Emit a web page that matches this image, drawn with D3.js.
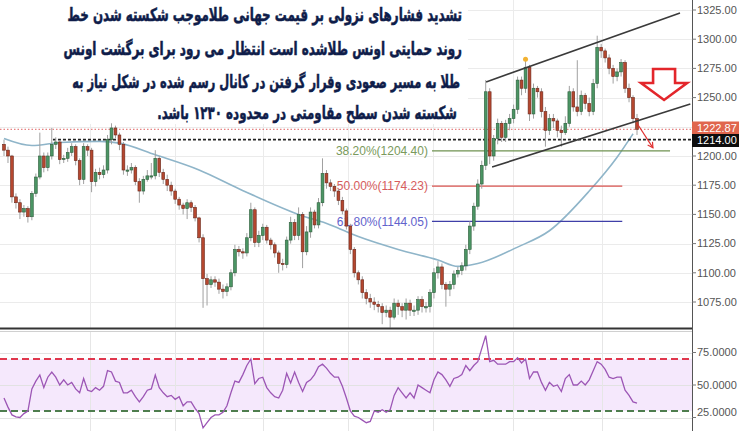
<!DOCTYPE html>
<html><head><meta charset="utf-8">
<script src="https://cdn.jsdelivr.net/npm/d3@7/dist/d3.min.js"></script>
<style>html,body{margin:0;padding:0;background:#fff;overflow:hidden}</style>
</head><body><svg id="c" width="739" height="431" xmlns="http://www.w3.org/2000/svg"></svg>
<script>
// ---------------- DATA ----------------
const opens = [1210,1205,1200,1165,1160,1152,1155,1148,1168,1182, 1200,1190,1200,1210,1212,1197,1198,1203,1208,1196,
 1180,1208,1205,1178,1186,1184,1188,1214,1224,1218, 1210,1188,1188,1190,1178,1170,1180,1183,1183,1198,
 1186,1180,1175,1170,1163,1158,1155,1160,1156,1147, 1130,1095,1090,1094,1092,1086,1084,1088,1100,1120,
 1118,1117,1130,1154,1126,1132,1139,1128,1124,1117, 1108,1107,1128,1143,1132,1150,1118,1135,1152,1141,
 1160,1185,1177,1174,1170,1162,1153,1140,1120,1100, 1094,1083,1078,1075,1073,1071,1066,1068,1062,1074,
 1071,1068,1074,1068,1068,1077,1071,1071,1083,1100, 1105,1090,1086,1090,1099,1102,1106,1120,1140,1157,
 1176,1192,1255,1200,1215,1228,1216,1228,1232,1240, 1265,1258,1276,1236,1258,1255,1238,1222,1232,1230,
 1222,1220,1228,1255,1242,1238,1252,1245,1238,1262, 1293,1290,1284,1275,1268,1272,1280,1258,1250,1232];
const closes = [1205,1200,1165,1160,1152,1155,1148,1168,1182,1200, 1190,1200,1210,1212,1197,1198,1203,1208,1196,1180,
 1208,1205,1178,1186,1184,1188,1214,1224,1218,1210, 1188,1188,1190,1178,1170,1180,1183,1183,1198,1186,
 1180,1175,1170,1163,1158,1155,1160,1156,1147,1130, 1095,1090,1094,1092,1086,1084,1088,1100,1120,1118,
 1117,1130,1154,1126,1132,1139,1128,1124,1117,1108, 1107,1128,1143,1132,1150,1118,1135,1152,1141,1160,
 1185,1177,1174,1170,1162,1153,1140,1120,1100,1094, 1083,1078,1075,1073,1071,1066,1068,1062,1074,1071,
 1068,1074,1068,1068,1077,1071,1071,1083,1100,1105, 1090,1086,1090,1099,1102,1106,1120,1140,1157,1176,
 1192,1255,1200,1215,1228,1216,1228,1232,1240,1265, 1258,1276,1236,1258,1255,1238,1222,1232,1230,1222,
 1220,1228,1255,1242,1238,1252,1245,1238,1262,1293, 1290,1284,1275,1268,1272,1280,1258,1250,1232,1222.87];
const highs = [1214,1208,1201,1168,1163,1158,1157,1170,1185,1220, 1203,1203,1224,1216,1213,1201,1207,1211,1210,1198,
 1211,1210,1207,1189,1190,1192,1218,1228,1226,1220, 1212,1192,1194,1192,1181,1183,1188,1194,1205,1200,
 1189,1184,1178,1172,1165,1160,1163,1162,1158,1148, 1133,1099,1097,1097,1095,1090,1091,1103,1124,1123,
 1121,1134,1160,1156,1136,1142,1141,1130,1126,1119, 1112,1131,1148,1146,1156,1152,1140,1156,1154,1164,
 1198,1188,1180,1176,1172,1165,1155,1142,1122,1102, 1097,1086,1082,1079,1076,1074,1072,1071,1078,1077,
 1074,1078,1077,1072,1080,1080,1075,1086,1104,1110, 1108,1092,1093,1102,1105,1109,1124,1144,1160,1180,
 1196,1265,1258,1218,1232,1230,1231,1236,1244,1268, 1268,1282,1278,1262,1260,1258,1242,1236,1236,1232,
 1226,1234,1260,1258,1282,1256,1254,1250,1266,1303, 1296,1292,1287,1278,1275,1283,1282,1262,1252,1236];
const lows = [1200,1194,1160,1155,1146,1148,1143,1145,1165,1180, 1186,1187,1197,1206,1193,1194,1195,1200,1192,1175,
 1176,1200,1169,1174,1180,1181,1185,1210,1215,1205, 1184,1183,1185,1175,1160,1167,1178,1180,1180,1182,
 1176,1170,1166,1159,1154,1150,1146,1152,1144,1126, 1070,1072,1087,1088,1082,1078,1080,1085,1097,1114,
 1112,1114,1127,1122,1122,1128,1125,1120,1113,1100, 1102,1104,1125,1128,1128,1104,1115,1130,1138,1138,
 1157,1172,1170,1165,1158,1150,1137,1116,1096,1090, 1078,1073,1070,1068,1066,1056,1062,1053,1060,1064,
 1062,1060,1063,1063,1064,1066,1066,1066,1078,1095, 1086,1071,1080,1086,1096,1098,1102,1116,1136,1154,
 1172,1188,1193,1196,1210,1212,1212,1222,1228,1236, 1252,1254,1230,1232,1250,1233,1208,1218,1224,1216,
 1208,1218,1225,1238,1234,1235,1240,1234,1235,1258, 1284,1280,1270,1262,1264,1268,1254,1246,1228,1218];
const rsi = [40,33,27,25.5,25,28,30,47,53,57.7, 48,56,60,56,50,54,50,52,47,44,
 55,46,45,48,46,49,61,60,53,52, 44,44,46,41,37,41,46,47,57.7,48,
 44,41,42,39,41,34,37,37,32,28, 17,21,25,27,27,29,34,44,53,52,
 58,65,70,51,55,56,48,44,41,40, 46,59,51.5,60,52,45,52,54,58,64,
 66,63,59,56,56,49,40,30,26,25, 23,21,22,30,29,31,29,31,42,48,
 44,40,44,40,50,48,46,44,54,60, 58,54,49,55,56,58,65,61,65,68,
 78,88,68,69,66,66,66,68,68,71, 67,70,55,60,60,52,46,52,49,50,
 45,55,58,50,50,53,50,54,61,68, 66,62,56,55,56,56,46,42,37,36];
const maIdx = [0,7,14,24,29,38,49,59,74,82,89,99,109,114,119,129,137,147,154,158];
const maVal = [1215,1209,1211.5,1212.5,1211,1201,1188,1172,1150,1141,1131,1120,1111,1105.5,1108,1122,1136,1170,1199,1219];
const priceTicks = [1075,1100,1125,1150,1175,1200,1225,1250,1275,1300,1325];
const rsiTicks = [25,50,75];
const rsiUpper = 70, rsiLower = 30;
const timeGridIdx = [21.7,43.0,65.1,86.4,107.8,127.9,150.3];
const fibLabels = ["38.20%(1204.40)","50.00%(1174.23)","61.80%(1144.05)"];
const fibValues = [1204.40,1174.23,1144.05];
const fibStartIdx = 107.5;
const fibEndIdx = [167.3,155.3,155.3];
const lastPrice = 1222.87, supportPrice = 1214.00, supportStartIdx = 12.3;
const channelUpper = [[121.1,1263.4],[169.8,1322.4]];
const channelLower = [[122.6,1190.6],[172.4,1244.5]];
const smallArrow = [[159.0,1228],[163.0,1207]];
const bigArrowAnchor = [165.8,1274.5];
const markerIdx = 131;
const titleLines = [
 "تشدید فشارهای نزولی بر قیمت جهانی طلاموجب شکسته شدن خط",
 "روند حمایتی اونس طلاشده است انتظار می رود برای برگشت اونس",
 "طلا به مسیر صعودی وقرار گرفتن در کانال رسم شده در شکل  نیاز به",
 "شکسته شدن سطح مقاومتی در محدوده ۱۲۳۰ باشد."
];

// ---------------- LAYOUT ----------------
const svg = d3.select("#c");
const AX = 692, mainBottom = 328, rsiTop = 331, H = 431;
const x = d3.scaleLinear().domain([0,159]).range([4,637]);
const y = d3.scaleLinear().domain([1075,1325]).range([302,10]);
const yr = d3.scaleLinear().domain([25,75]).range([417.5,352.5]);

const defs = svg.append("defs");
defs.append("clipPath").attr("id","cm").append("rect").attr("x",0).attr("y",0).attr("width",AX).attr("height",mainBottom);
defs.append("clipPath").attr("id","cr").append("rect").attr("x",0).attr("y",rsiTop).attr("width",AX).attr("height",H-rsiTop);

const gm = svg.append("g").attr("clip-path","url(#cm)");
gm.selectAll("line.hg").data(priceTicks).join("line")
  .attr("x1",0).attr("x2",AX).attr("y1",d=>Math.round(y(d))+0.5).attr("y2",d=>Math.round(y(d))+0.5)
  .attr("stroke","#ebebeb");
gm.selectAll("line.vg").data(timeGridIdx).join("line")
  .attr("x1",d=>Math.round(x(d))+0.5).attr("x2",d=>Math.round(x(d))+0.5).attr("y1",0).attr("y2",mainBottom)
  .attr("stroke","#ebebeb");

gm.append("rect").attr("x",0).attr("y",0).attr("width",468).attr("height",124).attr("fill","#fff");

const ma = maIdx.map((d,i)=>[d,maVal[i]]);
gm.append("path").datum(ma).attr("fill","none").attr("stroke","#8fb5c9").attr("stroke-width",1.6)
  .attr("d",d3.line().x(d=>x(d[0])).y(d=>y(d[1])).curve(d3.curveMonotoneX));

const fibColors = ["#6f9251","#d9534f","#3f3fa8"];
const fibText = ["#7a9a5c","#d65c5c","#6262cc"];
fibValues.forEach((v,k)=>{
  gm.append("line").attr("x1",x(fibStartIdx)).attr("x2",x(fibEndIdx[k]))
    .attr("y1",y(v)).attr("y2",y(v)).attr("stroke",fibColors[k]).attr("stroke-width",1.2);
  gm.append("text").attr("x",x(fibStartIdx)-4).attr("y",y(v)).attr("dy","0.35em")
    .attr("text-anchor","end").attr("font-family","Liberation Sans, Arial, sans-serif")
    .attr("font-size",12).attr("fill",fibText[k]).text(fibLabels[k]);
});

gm.append("line").attr("x1",0).attr("x2",AX).attr("y1",y(lastPrice)).attr("y2",y(lastPrice))
  .attr("stroke","#e06060").attr("stroke-width",1).attr("stroke-dasharray","1.5,2");
gm.append("line").attr("x1",x(supportStartIdx)).attr("x2",AX).attr("y1",y(supportPrice)).attr("y2",y(supportPrice))
  .attr("stroke","#222").attr("stroke-width",1.6).attr("stroke-dasharray","3,2");

const candles = closes.map((c,i)=>({i,o:opens[i],h:highs[i],l:lows[i],c}));
const cw = 2.8;
gm.selectAll("line.wk").data(candles).join("line")
  .attr("x1",d=>x(d.i)).attr("x2",d=>x(d.i)).attr("y1",d=>y(d.h)).attr("y2",d=>y(d.l))
  .attr("stroke","#a0a0a0").attr("stroke-width",1);
gm.selectAll("rect.bd").data(candles).join("rect")
  .attr("x",d=>x(d.i)-cw/2).attr("y",d=>y(Math.max(d.o,d.c)))
  .attr("width",cw).attr("height",d=>Math.max(1.2,Math.abs(y(d.o)-y(d.c))))
  .attr("fill",d=>d.c>=d.o?"#4b9564":"#b5472f")
  .attr("stroke",d=>d.c>=d.o?"#2d5d3b":"#6a281c").attr("stroke-width",0.6);

gm.append("circle").attr("cx",x(markerIdx)).attr("cy",y(highs[markerIdx])-1).attr("r",2.5).attr("fill","#f2b233");

[channelUpper,channelLower].forEach(c=>{
  gm.append("line").attr("x1",x(c[0][0])).attr("y1",y(c[0][1])).attr("x2",x(c[1][0])).attr("y2",y(c[1][1]))
    .attr("stroke","#3a3a3a").attr("stroke-width",1.6);
});

{
  const [a,b] = smallArrow;
  const x1=x(a[0]),y1=y(a[1]),x2=x(b[0]),y2=y(b[1]);
  gm.append("line").attr("x1",x1).attr("y1",y1).attr("x2",x2).attr("y2",y2).attr("stroke","#e03030").attr("stroke-width",1.2);
  const ang = Math.atan2(y2-y1,x2-x1), L=6;
  const p1=[x2-L*Math.cos(ang-0.5),y2-L*Math.sin(ang-0.5)], p2=[x2-L*Math.cos(ang+0.5),y2-L*Math.sin(ang+0.5)];
  gm.append("polyline").attr("points",`${p1} ${x2},${y2} ${p2}`).attr("fill","none").attr("stroke","#e03030").attr("stroke-width",1.2);
}
{
  const cx = x(bigArrowAnchor[0]), ty = y(bigArrowAnchor[1]);
  const pts = [[-11,0],[11,0],[11,14],[23,14],[0,31],[-23,14],[-11,14]].map(p=>[cx+p[0],ty+p[1]]);
  svg.append("polygon").attr("points",pts.map(p=>p.join(",")).join(" "))
    .attr("fill","#fff").attr("stroke","#e3262b").attr("stroke-width",2.6).attr("stroke-linejoin","miter");
}

// title
const tg = svg.append("g");
const rights = [462,462,460,457], lefts = [67,63,72,157], bases = [21,55,88,119];
titleLines.forEach((t,k)=>{
  const tx = tg.append("text").attr("x",0).attr("y",bases[k])
    .attr("font-family","DejaVu Sans, sans-serif").attr("font-weight","bold").attr("font-size",18)
    .attr("fill","#0f1d4a").attr("stroke","#0f1d4a").attr("stroke-width",0.55)
    .style("direction","rtl").attr("text-anchor","start").text(t);
  const bb = tx.node().getBBox();
  const sx = (rights[k]-lefts[k])/bb.width;
  const tX = rights[k] - (bb.x+bb.width)*sx;
  tx.attr("transform",`translate(${tX},0) scale(${sx},1)`);
});

// ---------------- RSI ----------------
const gr = svg.append("g").attr("clip-path","url(#cr)");
gr.append("rect").attr("x",0).attr("width",AX).attr("y",yr(rsiUpper)).attr("height",yr(rsiLower)-yr(rsiUpper)).attr("fill","#f5e8fc");
gr.selectAll("line.rg").data(rsiTicks).join("line").attr("x1",0).attr("x2",AX)
  .attr("y1",d=>Math.round(yr(d))+0.5).attr("y2",d=>Math.round(yr(d))+0.5).attr("stroke","#e2e2e2");
gr.selectAll("line.rv").data(timeGridIdx).join("line")
  .attr("x1",d=>Math.round(x(d))+0.5).attr("x2",d=>Math.round(x(d))+0.5).attr("y1",rsiTop).attr("y2",H).attr("stroke","#e6e6e6");
gr.append("line").attr("x1",0).attr("x2",AX).attr("y1",yr(rsiUpper)).attr("y2",yr(rsiUpper))
  .attr("stroke","#e0374d").attr("stroke-width",2).attr("stroke-dasharray","7,4");
gr.append("line").attr("x1",0).attr("x2",AX).attr("y1",yr(rsiLower)).attr("y2",yr(rsiLower))
  .attr("stroke","#4e7d4e").attr("stroke-width",2).attr("stroke-dasharray","7,4");
gr.append("path").datum(rsi).attr("fill","none").attr("stroke","#9c56b5").attr("stroke-width",1.3)
  .attr("d",d3.line().x((d,i)=>x(i)).y(d=>yr(d)));

svg.append("line").attr("x1",0).attr("x2",AX).attr("y1",mainBottom+0.5).attr("y2",mainBottom+0.5).attr("stroke","#333").attr("stroke-width",2);
svg.append("line").attr("x1",0).attr("x2",AX).attr("y1",rsiTop+0.5).attr("y2",rsiTop+0.5).attr("stroke","#d0d0d0");

// ---------------- AXES ----------------
svg.append("line").attr("x1",AX+0.5).attr("x2",AX+0.5).attr("y1",0).attr("y2",H).attr("stroke","#555");
const axisFont = "Liberation Sans, Arial, sans-serif";
const pa = svg.append("g");
pa.selectAll("line").data(priceTicks).join("line").attr("x1",AX).attr("x2",AX+4)
  .attr("y1",d=>y(d)).attr("y2",d=>y(d)).attr("stroke","#777");
pa.selectAll("text").data(priceTicks).join("text").attr("x",AX+5).attr("y",d=>y(d)).attr("dy","0.35em")
  .attr("font-family",axisFont).attr("font-size",11).attr("fill","#555").text(d=>d3.format(".2f")(d));
const ra = svg.append("g");
ra.selectAll("line").data(rsiTicks).join("line").attr("x1",AX).attr("x2",AX+4)
  .attr("y1",d=>yr(d)).attr("y2",d=>yr(d)).attr("stroke","#777");
ra.selectAll("text").data(rsiTicks).join("text").attr("x",AX+5).attr("y",d=>Math.min(yr(d),412)).attr("dy","0.35em")
  .attr("font-family",axisFont).attr("font-size",11).attr("fill","#555").text(d=>d3.format(".4f")(d));

svg.append("rect").attr("x",AX).attr("y",121.5).attr("width",739-AX).attr("height",12.5).attr("fill","#e0664d");
svg.append("text").attr("x",AX+5).attr("y",128).attr("dy","0.35em").attr("font-family",axisFont).attr("font-size",11)
  .attr("fill","#fff").text(d3.format(".2f")(lastPrice));
svg.append("rect").attr("x",AX).attr("y",134).attr("width",739-AX).attr("height",13).attr("fill","#0d0d0d");
svg.append("text").attr("x",AX+5).attr("y",140.5).attr("dy","0.35em").attr("font-family",axisFont).attr("font-size",11)
  .attr("fill","#fff").text(d3.format(".2f")(supportPrice));
</script></body></html>
